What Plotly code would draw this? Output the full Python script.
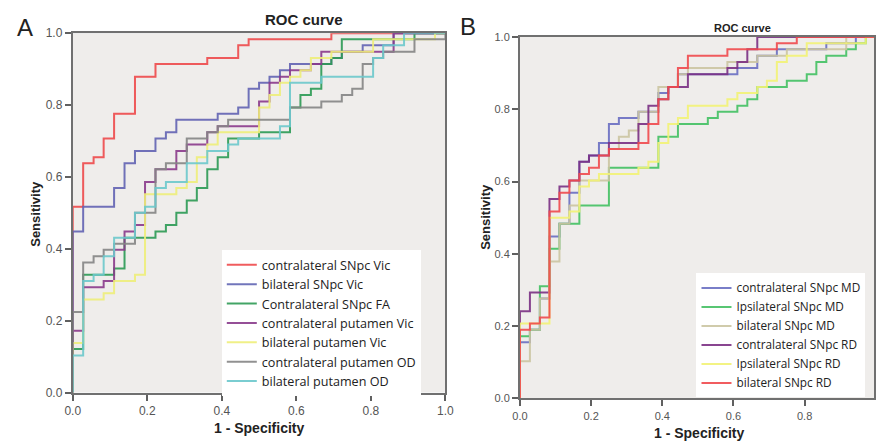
import plotly.graph_objects as go

# ---------------- Panel A data (1 - specificity, sensitivity) ----------------
a_names = ["contralateral SNpc Vic", "bilateral SNpc Vic", "Contralateral SNpc FA",
           "contralateral putamen Vic", "bilateral putamen Vic",
           "contralateral putamen OD", "bilateral putamen OD"]
a_colors = ["#ee4a4c", "#6266b4", "#2f9a55", "#8a3c8c", "#eeee7a", "#858585", "#6cc8cc"]

a_red_x = [0, 0, 0.028, 0.056, 0.083, 0.111, 0.167, 0.222, 0.361, 0.444, 0.472, 0.694, 1.0]
a_red_y = [0, 0.517, 0.638, 0.655, 0.707, 0.776, 0.879, 0.914, 0.931, 0.966, 0.983, 1.0, 1.0]

a_blue_x = [0, 0, 0.028, 0.111, 0.139, 0.167, 0.222, 0.25, 0.278, 0.389, 0.444, 0.472, 0.5,
            0.528, 0.556, 0.583, 0.694, 0.722, 0.778, 0.861, 1.0]
a_blue_y = [0, 0.448, 0.517, 0.569, 0.638, 0.672, 0.707, 0.724, 0.759, 0.776, 0.793, 0.845, 0.862,
            0.879, 0.897, 0.914, 0.931, 0.948, 0.966, 1.0, 1.0]

a_green_x = [0, 0, 0.028, 0.111, 0.139, 0.222, 0.25, 0.278, 0.306, 0.333, 0.361, 0.389, 0.417,
             0.5, 0.583, 0.611, 0.639, 0.667, 0.694, 0.722, 0.917, 1.0]
a_green_y = [0, 0.121, 0.328, 0.345, 0.431, 0.448, 0.466, 0.5, 0.534, 0.569, 0.621, 0.655, 0.707,
             0.724, 0.793, 0.828, 0.845, 0.914, 0.931, 0.983, 1.0, 1.0]

a_purple_x = [0, 0, 0.028, 0.083, 0.111, 0.139, 0.167, 0.194, 0.222, 0.278, 0.306, 0.361, 0.389,
              0.5, 0.528, 0.556, 0.583, 0.639, 0.667, 0.861, 1.0]
a_purple_y = [0, 0.172, 0.293, 0.31, 0.397, 0.448, 0.466, 0.586, 0.621, 0.672, 0.69, 0.724, 0.741,
              0.81, 0.862, 0.879, 0.897, 0.914, 0.948, 1.0, 1.0]

a_yellow_x = [0, 0, 0.028, 0.083, 0.111, 0.167, 0.194, 0.278, 0.306, 0.333, 0.361, 0.389, 0.5,
              0.528, 0.556, 0.583, 0.611, 0.639, 0.694, 0.806, 0.972, 1.0]
a_yellow_y = [0, 0.138, 0.259, 0.276, 0.31, 0.328, 0.552, 0.569, 0.586, 0.655, 0.69, 0.724, 0.793,
              0.828, 0.862, 0.879, 0.897, 0.931, 0.948, 0.983, 1.0, 1.0]

a_gray_x = [0, 0, 0.028, 0.056, 0.083, 0.111, 0.167, 0.222, 0.25, 0.306, 0.361, 0.389, 0.417,
            0.583, 0.667, 0.722, 0.75, 0.778, 0.806, 0.833, 0.917, 1.0, 1.0]
a_gray_y = [0, 0.224, 0.362, 0.379, 0.397, 0.414, 0.5, 0.621, 0.638, 0.707, 0.724, 0.741, 0.759,
            0.793, 0.81, 0.828, 0.845, 0.914, 0.931, 0.948, 0.983, 0.983, 1.0]

a_cyan_x = [0, 0, 0.028, 0.056, 0.083, 0.111, 0.167, 0.194, 0.222, 0.25, 0.306, 0.361, 0.417,
            0.444, 0.556, 0.583, 0.667, 0.806, 0.833, 0.889, 1.0]
a_cyan_y = [0, 0.103, 0.31, 0.328, 0.379, 0.431, 0.5, 0.517, 0.569, 0.586, 0.638, 0.672, 0.69,
            0.707, 0.741, 0.862, 0.879, 0.931, 0.966, 1.0, 1.0]

# ---------------- Panel B data ----------------
b_names = ["contralateral SNpc MD", "Ipsilateral SNpc MD", "bilateral SNpc MD",
           "contralateral SNpc RD", "Ipsilateral SNpc RD", "bilateral SNpc RD"]
b_colors = ["#6a70c2", "#46c064", "#cbc5a2", "#7c3184", "#f2f276", "#f04a4e"]

b_blue_x = [0, 0, 0.028, 0.056, 0.083, 0.111, 0.139, 0.167, 0.194, 0.222, 0.25, 0.278, 0.333,
            0.389, 0.417, 0.444, 0.611, 0.667, 0.722, 0.861, 0.944, 1.0]
b_blue_y = [0, 0.155, 0.19, 0.276, 0.448, 0.483, 0.569, 0.655, 0.672, 0.707, 0.759, 0.776, 0.793,
            0.845, 0.862, 0.897, 0.914, 0.948, 0.966, 0.983, 1.0, 1.0]

b_green_x = [0, 0, 0.028, 0.056, 0.083, 0.111, 0.167, 0.25, 0.389, 0.444, 0.528, 0.556, 0.611,
             0.639, 0.667, 0.75, 0.806, 0.833, 0.861, 0.917, 0.944, 0.972, 1.0]
b_green_y = [0, 0.172, 0.19, 0.31, 0.414, 0.483, 0.534, 0.638, 0.724, 0.759, 0.776, 0.793, 0.81,
             0.828, 0.862, 0.879, 0.897, 0.931, 0.948, 0.966, 0.983, 1.0, 1.0]

b_tan_x = [0, 0, 0.028, 0.056, 0.083, 0.111, 0.139, 0.167, 0.25, 0.278, 0.306, 0.333, 0.389,
           0.444, 0.472, 0.583, 0.667, 0.75, 0.917, 1.0]
b_tan_y = [0, 0.103, 0.19, 0.276, 0.379, 0.483, 0.534, 0.603, 0.69, 0.724, 0.741, 0.793, 0.862,
           0.897, 0.914, 0.931, 0.948, 0.966, 1.0, 1.0]

b_purple_x = [0, 0, 0.028, 0.083, 0.111, 0.139, 0.167, 0.194, 0.25, 0.333, 0.361, 0.389, 0.417,
              0.472, 0.583, 0.611, 0.639, 0.667, 1.0]
b_purple_y = [0, 0.241, 0.293, 0.552, 0.586, 0.603, 0.655, 0.672, 0.707, 0.759, 0.81, 0.828, 0.862,
              0.897, 0.914, 0.931, 0.966, 1.0, 1.0]

b_yellow_x = [0, 0, 0.083, 0.139, 0.167, 0.194, 0.222, 0.333, 0.361, 0.389, 0.417, 0.444, 0.472,
              0.583, 0.611, 0.667, 0.694, 0.722, 0.75, 0.806, 0.972, 1.0]
b_yellow_y = [0, 0.207, 0.5, 0.517, 0.586, 0.603, 0.621, 0.638, 0.655, 0.707, 0.759, 0.776, 0.81,
              0.828, 0.845, 0.862, 0.879, 0.931, 0.948, 0.983, 1.0, 1.0]

b_red_x = [0, 0, 0.028, 0.056, 0.083, 0.111, 0.139, 0.167, 0.194, 0.222, 0.25, 0.333, 0.361,
           0.389, 0.417, 0.444, 0.472, 0.583, 0.722, 0.778, 1.0]
b_red_y = [0, 0.19, 0.207, 0.224, 0.517, 0.569, 0.603, 0.621, 0.638, 0.672, 0.69, 0.707, 0.759,
           0.828, 0.862, 0.914, 0.948, 0.966, 0.983, 1.0, 1.0]

ticks = [0.0, 0.2, 0.4, 0.6, 0.8, 1.0]
tick_text = ["0.0", "0.2", "0.4", "0.6", "0.8", "1.0"]

a_series = [(a_red_x, a_red_y), (a_blue_x, a_blue_y), (a_green_x, a_green_y),
            (a_purple_x, a_purple_y), (a_yellow_x, a_yellow_y), (a_gray_x, a_gray_y),
            (a_cyan_x, a_cyan_y)]
b_series = [(b_blue_x, b_blue_y), (b_green_x, b_green_y), (b_tan_x, b_tan_y),
            (b_purple_x, b_purple_y), (b_yellow_x, b_yellow_y), (b_red_x, b_red_y)]

W, H = 883, 447
fig = go.Figure()

for (xs, ys), name, col in zip(a_series, a_names, a_colors):
    fig.add_trace(go.Scatter(x=xs, y=ys, mode="lines", name=name, line_shape="hv",
                             line=dict(color=col, width=2), opacity=0.9,
                             xaxis="x", yaxis="y", legend="legend"))
for (xs, ys), name, col in zip(b_series, b_names, b_colors):
    fig.add_trace(go.Scatter(x=xs, y=ys, mode="lines", name=name, line_shape="hv",
                             line=dict(color=col, width=2), opacity=0.9,
                             xaxis="x2", yaxis="y2", legend="legend2"))

FONT = "Liberation Sans, Arial, sans-serif"
LFONT = "Open Sans, Noto Sans, sans-serif"
axis_common = dict(showgrid=False, zeroline=False, showline=True, mirror=True,
                   linecolor="#707070", linewidth=2, ticks="outside", ticklen=6,
                   tickwidth=1.5, tickcolor="#606060", tickvals=ticks, ticktext=tick_text)

ax_dom = [66 / W, 446 / W]
ay_dom = [1 - 398 / H, 1 - 27 / H]
bx_dom = [522 / W, 1.0]
by_dom = [1 - 404 / H, 1 - 31 / H]

fig.update_layout(
    width=W, height=H, margin=dict(l=0, r=0, t=0, b=0),
    paper_bgcolor="white", plot_bgcolor="#efedec",
    font=dict(family=FONT, color="#222"),
    xaxis=dict(domain=ax_dom, range=[0, 1], anchor="y",
               tickfont=dict(size=12, color="#555"), **axis_common),
    yaxis=dict(domain=ay_dom, range=[0, 1], anchor="x",
               tickfont=dict(size=12, color="#555"), **axis_common),
    xaxis2=dict(domain=bx_dom, range=[0, 0.995], anchor="y2",
                tickfont=dict(size=11, color="#555"), **axis_common),
    yaxis2=dict(domain=by_dom, range=[0, 1], anchor="x2",
                tickfont=dict(size=11, color="#555"), **axis_common),
    legend=dict(x=218 / W, y=1 - 251 / H, xanchor="left", yanchor="top",
                bgcolor="white", borderwidth=0, itemwidth=30,
                font=dict(size=12.6, color="#222", family=LFONT), tracegroupgap=0),
    legend2=dict(x=702 / W, y=1 - 275 / H, xanchor="left", yanchor="top",
                 bgcolor="white", borderwidth=0, itemwidth=30,
                 font=dict(size=11.8, color="#222", family=LFONT), tracegroupgap=0),
    showlegend=True,
)

def ann(text, x, y, size, bold=False, angle=0, color="#222"):
    fig.add_annotation(text=f"<b>{text}</b>" if bold else text, x=x / W, y=1 - y / H,
                       xref="paper", yref="paper", showarrow=False, textangle=angle,
                       xanchor="center", yanchor="middle",
                       font=dict(size=size, color=color, family=FONT))

ann("A", 17, 21, 24)
ann("B", 469, 20, 24)
ann("ROC curve", 302, 13, 15, bold=True)
ann("ROC curve", 749, 22, 11, bold=True)
ann("Sensitivity", 28, 213, 13, bold=True, angle=-90)
ann("Sensitivity", 487, 217, 13, bold=True, angle=-90)
ann("1 - Specificity", 256, 435, 14, bold=True)
ann("1 - Specificity", 705, 440, 14, bold=True)

fig.write_html("out.html")
